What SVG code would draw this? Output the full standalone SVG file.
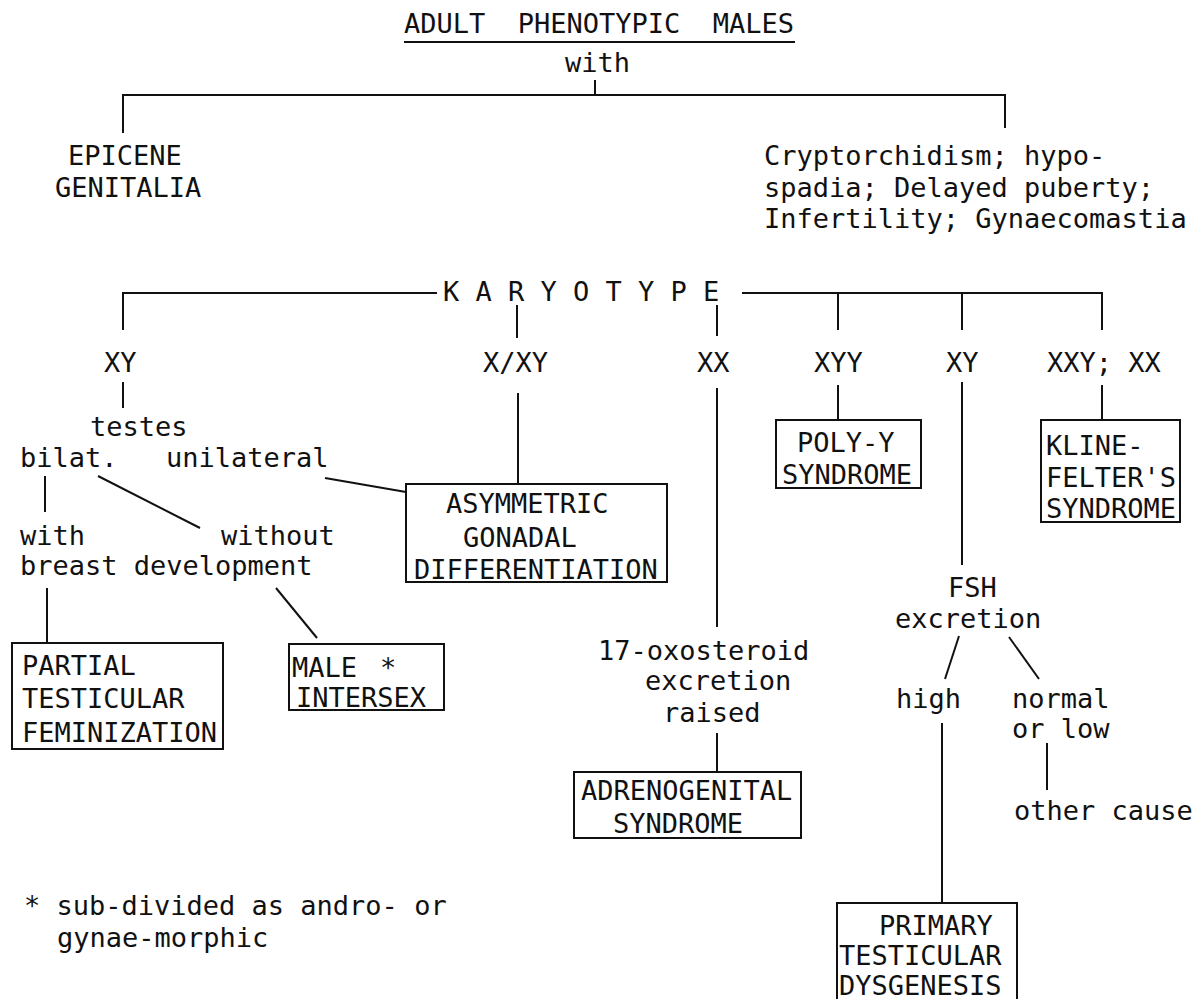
<svg xmlns="http://www.w3.org/2000/svg" width="1195" height="999" viewBox="0 0 1195 999" xml:space="preserve">
<style>
text{font-family:"DejaVu Sans Mono","Liberation Mono",monospace;font-size:27px;fill:#111;white-space:pre}
line,polyline{stroke:#111;stroke-width:2;fill:none}
rect.box{stroke:#111;stroke-width:2;fill:none}
</style>
<g id="connectors">
<line x1="404" y1="42" x2="795" y2="42"/>
<line x1="595" y1="80" x2="595" y2="95"/>
<polyline points="123,133 123,95 1005,95 1005,128"/>
<polyline points="123,330 123,293 437,293"/>
<polyline points="742,293 1102,293 1102,330"/>
<line x1="838" y1="293" x2="838" y2="330"/>
<line x1="962" y1="293" x2="962" y2="330"/>
<line x1="517" y1="305" x2="517" y2="338"/>
<line x1="717" y1="305" x2="717" y2="336"/>
<line x1="123" y1="382" x2="123" y2="408"/>
<line x1="45" y1="476" x2="45" y2="512"/>
<line x1="98" y1="476" x2="200" y2="528"/>
<line x1="325" y1="478" x2="406" y2="492"/>
<line x1="518" y1="393" x2="518" y2="484"/>
<line x1="47" y1="588" x2="47" y2="643"/>
<line x1="276" y1="588" x2="317" y2="638"/>
<line x1="717" y1="388" x2="717" y2="627"/>
<line x1="717" y1="733" x2="717" y2="772"/>
<line x1="838" y1="385" x2="838" y2="420"/>
<line x1="1102" y1="385" x2="1102" y2="420"/>
<line x1="962" y1="382" x2="962" y2="565"/>
<line x1="959" y1="636" x2="945" y2="679"/>
<line x1="1009" y1="637" x2="1039" y2="679"/>
<line x1="1047" y1="743" x2="1047" y2="790"/>
<line x1="942" y1="723" x2="942" y2="903"/>
</g>
<g id="title"><text x="404" y="33">ADULT  PHENOTYPIC  MALES</text></g>
<g id="with"><text x="565" y="72">with</text></g>
<g id="epicene"><text x="68" y="165">EPICENE</text><text x="55" y="197">GENITALIA</text></g>
<g id="crypto"><text x="764" y="165">Cryptorchidism; hypo-</text><text x="764" y="197">spadia; Delayed puberty;</text><text x="764" y="228">Infertility; Gynaecomastia</text></g>
<g id="karyotype"><text x="443" y="301">K A R Y O T Y P E</text></g>
<g id="xy1"><text x="104" y="372">XY</text></g>
<g id="xxy"><text x="483" y="372">X/XY</text></g>
<g id="xx"><text x="697" y="372">XX</text></g>
<g id="xyy"><text x="814" y="372">XYY</text></g>
<g id="xy2"><text x="946" y="372">XY</text></g>
<g id="xxyxx"><text x="1047" y="372">XXY; XX</text></g>
<g id="testes"><text x="90" y="436">testes</text><text x="20" y="467">bilat.</text><text x="166" y="467">unilateral</text></g>
<g id="breast"><text x="20" y="545">with</text><text x="221" y="545">without</text><text x="20" y="575">breast development</text></g>
<g id="asym"><rect class="box" x="406" y="484" width="261" height="98"/><text x="446" y="513">ASYMMETRIC</text><text x="463" y="547">GONADAL</text><text x="414" y="579">DIFFERENTIATION</text></g>
<g id="partial"><rect class="box" x="12" y="643" width="211" height="106"/><text x="22" y="675">PARTIAL</text><text x="22" y="708">TESTICULAR</text><text x="22" y="742">FEMINIZATION</text></g>
<g id="male"><rect class="box" x="289" y="644" width="155" height="66"/><text x="292" y="677">MALE</text><text x="380" y="677">*</text><text x="296" y="707">INTERSEX</text></g>
<g id="polyy"><rect class="box" x="776" y="420" width="145" height="68"/><text x="797" y="452">POLY-Y</text><text x="782" y="484">SYNDROME</text></g>
<g id="kline"><rect class="box" x="1041" y="420" width="139" height="102"/><text x="1046" y="455">KLINE-</text><text x="1046" y="487">FELTER'S</text><text x="1046" y="518">SYNDROME</text></g>
<g id="oxo"><text x="598" y="660">17-oxosteroid</text><text x="645" y="690">excretion</text><text x="663" y="722">raised</text></g>
<g id="adreno"><rect class="box" x="574" y="772" width="227" height="66"/><text x="581" y="800">ADRENOGENITAL</text><text x="613" y="833">SYNDROME</text></g>
<g id="fsh"><text x="948" y="597">FSH</text><text x="895" y="628">excretion</text></g>
<g id="high"><text x="896" y="708">high</text></g>
<g id="normal"><text x="1012" y="708">normal</text><text x="1012" y="738">or low</text></g>
<g id="other"><text x="1014" y="820">other cause</text></g>
<g id="primary"><rect class="box" x="837" y="903" width="180" height="120"/><text x="879" y="935">PRIMARY</text><text x="839" y="965">TESTICULAR</text><text x="839" y="995">DYSGENESIS</text></g>
<g id="footnote"><text x="24" y="915">* sub-divided as andro- or</text><text x="57" y="947">gynae-morphic</text></g>
</svg>
